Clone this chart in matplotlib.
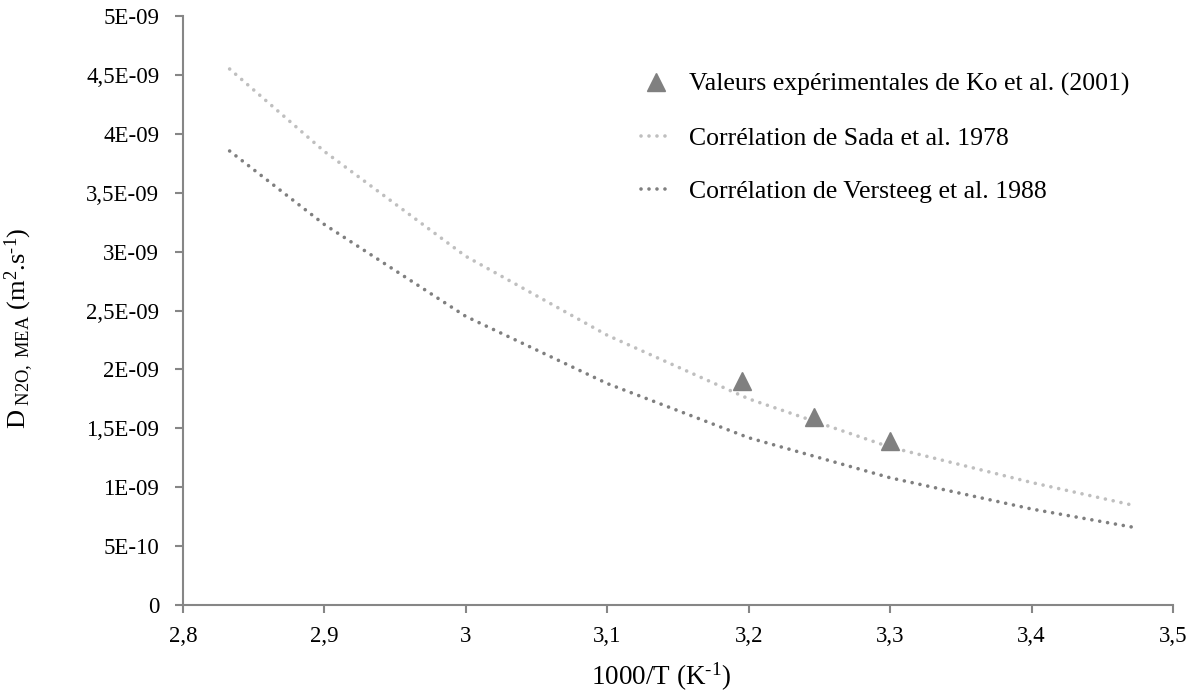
import numpy as np
import matplotlib
matplotlib.use("Agg")
import matplotlib.pyplot as plt
from matplotlib.ticker import FixedLocator, FixedFormatter

plt.rcParams['font.family'] = ['Liberation Serif', 'DejaVu Serif']
plt.rcParams['mathtext.fontset'] = 'custom'
plt.rcParams['mathtext.rm'] = 'Liberation Serif'
plt.rcParams['mathtext.it'] = 'Liberation Serif:italic'

# valeurs
x_exp = [3.195, 3.246, 3.300]
d_exp = [1.90e-9, 1.60e-9, 1.39e-9]

x_corr = [2.833, 2.9, 3.0, 3.1, 3.2, 3.3, 3.4, 3.471]
d_sada = [4.55e-9, 3.85e-9, 2.96e-9, 2.29e-9, 1.75e-9, 1.34e-9, 1.04e-9, 0.849e-9]
d_versteeg = [3.854e-9, 3.23e-9, 2.45e-9, 1.88e-9, 1.42e-9, 1.08e-9, 0.815e-9, 0.662e-9]

x_ticks = [2.8, 2.9, 3.0, 3.1, 3.2, 3.3, 3.4, 3.5]
x_labels = ['2,8', '2,9', '3', '3,1', '3,2', '3,3', '3,4', '3,5']
y_ticks = [0, 0.5e-9, 1e-9, 1.5e-9, 2e-9, 2.5e-9, 3e-9, 3.5e-9, 4e-9, 4.5e-9, 5e-9]
y_labels = ['0', '5E-10', '1E-09', '1,5E-09', '2E-09', '2,5E-09', '3E-09',
            '3,5E-09', '4E-09', '4,5E-09', '5E-09']

fig = plt.figure(figsize=(11.99, 6.92), dpi=100)
ax = fig.add_axes([0.1526, 0.1257, 0.8257, 0.8512])

ax.plot(x_exp, d_exp, linestyle='none', marker='^', markersize=12.5,
        color='#808080', label='Valeurs expérimentales de Ko et al. (2001)', zorder=3)
ax.plot(x_corr, d_sada, color='#BFBFBF', lw=2.6, linestyle=(0, (0.01, 2.2)),
        dash_capstyle='round', label='Corrélation de Sada et al. 1978', zorder=2)
ax.plot(x_corr, d_versteeg, color='#7F7F7F', lw=2.6, linestyle=(0, (0.01, 2.2)),
        dash_capstyle='round', label='Corrélation de Versteeg et al. 1988', zorder=2)

ax.set_xlim(2.8, 3.5)
ax.set_ylim(0, 5e-9)
ax.xaxis.set_major_locator(FixedLocator(x_ticks))
ax.xaxis.set_major_formatter(FixedFormatter(x_labels))
ax.yaxis.set_major_locator(FixedLocator(y_ticks))
ax.yaxis.set_major_formatter(FixedFormatter(y_labels))

for s in ['top', 'right']:
    ax.spines[s].set_visible(False)
for s in ['left', 'bottom']:
    ax.spines[s].set_color('#868686')
    ax.spines[s].set_linewidth(1.5)
ax.tick_params(axis='both', colors='#868686', labelcolor='black', labelsize=16.5,
               length=6, width=1.5, direction='out')
ax.tick_params(axis='x', pad=9)
ax.tick_params(axis='y', pad=11)

ax.set_xlabel('1000/T (K$^{\\text{-1}}$)', fontsize=19.5, va='top')
ax.xaxis.set_label_coords(0.483, -0.095)
ax.set_ylabel('D$_{\\mathrm{\\ N2O,\\ MEA}}$ (m$^{\\mathrm{2}}$.s$^{\\text{-1}}$)',
              fontsize=19)
ax.yaxis.set_label_coords(-0.148, 0.47)

ax.legend(loc='upper left', bbox_to_anchor=(0.515, 0.928), bbox_transform=fig.transFigure,
          frameon=False, fontsize=18.5, handlelength=1.2, handletextpad=0.7,
          labelspacing=1.18, numpoints=1)

fig.savefig('out.png', dpi=100)
